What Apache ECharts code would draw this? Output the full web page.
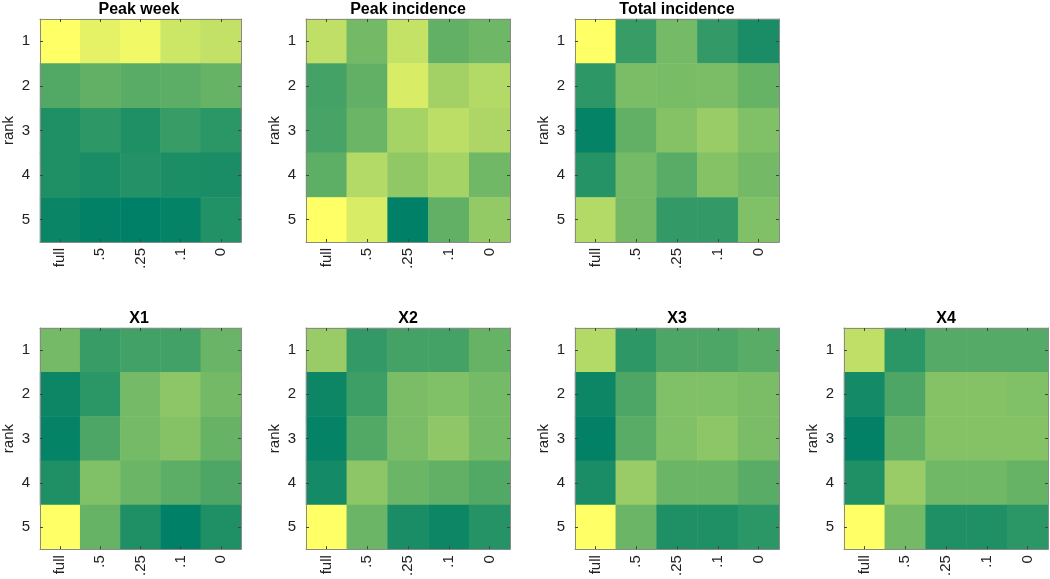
<!DOCTYPE html>
<html>
<head>
<meta charset="utf-8">
<script src="https://cdn.jsdelivr.net/npm/echarts@6/dist/echarts.min.js"></script>
<style>html,body{margin:0;padding:0;background:#fff}#c{width:1050px;height:579px}</style>
</head>
<body>
<div id="c"></div>
<script>
// categories
const xCats = ['full', '.5', '.25', '.1', '0'];
const yCats = ['1', '2', '3', '4', '5'];
const titles = ['Peak week', 'Peak incidence', 'Total incidence', 'X1', 'X2', 'X3', 'X4'];

// normalized values (rows = rank 1..5, cols = full,.5,.25,.1,0)
const peakWeek = [
  [1.00, 0.90, 0.95, 0.80, 0.76],
  [0.32, 0.38, 0.35, 0.36, 0.40],
  [0.12, 0.18, 0.12, 0.22, 0.17],
  [0.12, 0.10, 0.14, 0.11, 0.10],
  [0.04, 0.01, 0.00, 0.02, 0.13]
];
const peakIncidence = [
  [0.75, 0.45, 0.77, 0.38, 0.43],
  [0.27, 0.38, 0.85, 0.64, 0.70],
  [0.28, 0.42, 0.65, 0.74, 0.68],
  [0.37, 0.70, 0.57, 0.65, 0.44],
  [1.00, 0.85, 0.00, 0.38, 0.58]
];
const totalIncidence = [
  [1.00, 0.22, 0.46, 0.20, 0.10],
  [0.18, 0.48, 0.47, 0.48, 0.40],
  [0.02, 0.38, 0.52, 0.60, 0.50],
  [0.15, 0.46, 0.35, 0.52, 0.45],
  [0.70, 0.45, 0.20, 0.20, 0.50]
];
const x1 = [
  [0.46, 0.22, 0.26, 0.26, 0.41],
  [0.05, 0.17, 0.46, 0.55, 0.45],
  [0.02, 0.30, 0.46, 0.52, 0.40],
  [0.12, 0.50, 0.42, 0.36, 0.30],
  [1.00, 0.40, 0.12, 0.00, 0.12]
];
const x2 = [
  [0.60, 0.20, 0.27, 0.27, 0.40],
  [0.05, 0.24, 0.48, 0.50, 0.46],
  [0.02, 0.32, 0.48, 0.56, 0.46],
  [0.08, 0.55, 0.42, 0.38, 0.32],
  [1.00, 0.42, 0.10, 0.05, 0.15]
];
const x3 = [
  [0.70, 0.18, 0.30, 0.30, 0.35],
  [0.05, 0.30, 0.50, 0.50, 0.48],
  [0.01, 0.35, 0.50, 0.55, 0.48],
  [0.10, 0.60, 0.42, 0.42, 0.35],
  [1.00, 0.42, 0.12, 0.12, 0.17]
];
const x4 = [
  [0.75, 0.17, 0.33, 0.33, 0.33],
  [0.08, 0.30, 0.52, 0.52, 0.50],
  [0.01, 0.38, 0.52, 0.52, 0.52],
  [0.12, 0.60, 0.44, 0.44, 0.40],
  [1.00, 0.45, 0.12, 0.12, 0.17]
];
const panels = [peakWeek, peakIncidence, totalIncidence, x1, x2, x3, x4];

// layout
const lefts = [37, 306, 575, 37, 306, 575, 844];
const tops = [19, 19, 19, 328, 328, 328, 328];
const W = 204, H = 223;
const FONT = 'Liberation Sans, Arial, Helvetica, sans-serif';

const grid = [], xAxis = [], yAxis = [], series = [], graphic = [];
panels.forEach((p, i) => {
  grid.push({left: lefts[i], top: tops[i], width: W, height: H, containLabel: false});
  const line = {show: true, lineStyle: {color: '#8a8a8a', width: 1}};
  const tick = {show: true, inside: true, length: 3, alignWithLabel: true, lineStyle: {color: '#444', width: 1}};
  xAxis.push({type: 'category', gridIndex: i, data: xCats, position: 'bottom', z: 5,
    axisLine: line, axisTick: tick,
    axisLabel: {rotate: 90, margin: 6, fontSize: 15, color: '#222', fontFamily: FONT},
    splitLine: {show: false}});
  xAxis.push({type: 'category', gridIndex: i, data: xCats, position: 'top', z: 5,
    axisLine: line, axisTick: tick, axisLabel: {show: false}, splitLine: {show: false}});
  yAxis.push({type: 'category', gridIndex: i, data: yCats, inverse: true, position: 'left', z: 5,
    axisLine: line, axisTick: tick,
    axisLabel: {margin: 10, fontSize: 15, color: '#222', fontFamily: FONT},
    name: 'rank', nameLocation: 'middle', nameGap: 24, nameRotate: 90,
    nameTextStyle: {fontSize: 15, color: '#222', fontFamily: FONT},
    splitLine: {show: false}});
  yAxis.push({type: 'category', gridIndex: i, data: yCats, inverse: true, position: 'right', z: 5,
    axisLine: line, axisTick: tick, axisLabel: {show: false}, splitLine: {show: false}});
  const data = [];
  p.forEach((row, r) => row.forEach((v, c) => data.push([c, r, v])));
  series.push({type: 'heatmap', xAxisIndex: 2 * i, yAxisIndex: 2 * i, data: data, z: 1,
    itemStyle: {borderWidth: 0}, emphasis: {disabled: true}, progressive: 0});
  graphic.push({type: 'text', x: lefts[i] + W / 2, y: tops[i] - 17,
    style: {text: titles[i], fill: '#000', font: 'bold 16px ' + FONT, textAlign: 'center'}});
});

const chart = echarts.init(document.getElementById('c'), null, {renderer: 'canvas'});
chart.setOption({
  animation: false,
  backgroundColor: '#fff',
  grid, xAxis, yAxis, series,
  visualMap: {type: 'continuous', min: 0, max: 1, show: false,
    seriesIndex: series.map((s, i) => i),
    inRange: {color: ['#008066', '#ffff66']}},
  graphic: graphic
});
</script>
</body>
</html>
